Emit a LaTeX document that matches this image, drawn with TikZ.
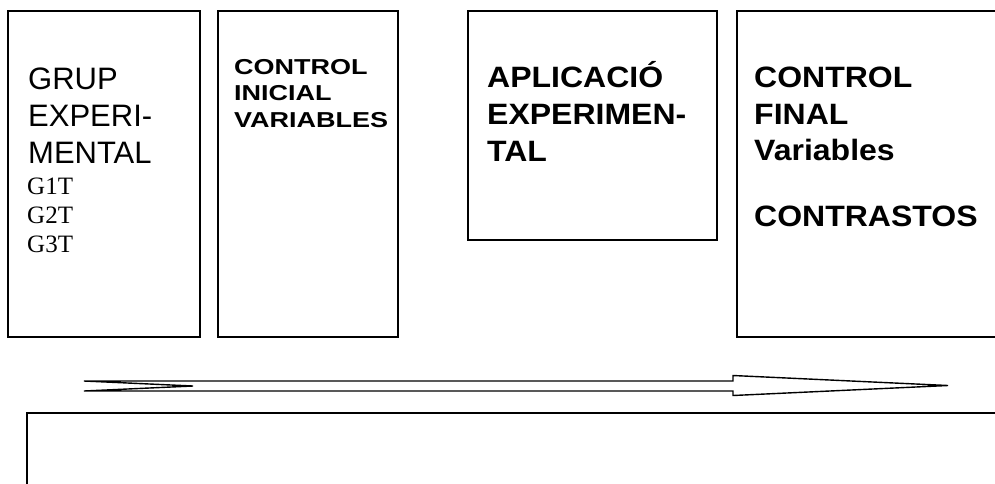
\documentclass[tikz,border=0pt]{standalone}
\usepackage{fontspec}
\usepackage{graphicx}
\setmainfont{Liberation Sans}
\newfontfamily\tms{Liberation Serif}
\newcommand{\vsq}[2]{\scalebox{1}[#1]{#2}}
\tikzset{
  frame/.style={draw=black, line width=1.4pt},
  txt/.style={anchor=base west, inner sep=0pt},
  bigreg/.style={txt, font=\fontsize{31}{37}\selectfont},
  smallb/.style={txt, font=\fontsize{27}{30}\selectfont\bfseries},
  bigb/.style={txt, font=\fontsize{32}{37}\selectfont\bfseries},
  tim/.style={txt, font=\fontsize{25}{29}\tms},
}
\begin{document}
\begin{tikzpicture}[x=1pt, y=-1pt]
\useasboundingbox (0,0) rectangle (995,483);
\clip (0,0) rectangle (995,483);
\fill[white] (0,0) rectangle (995,483);
% boxes
\draw[frame] (8,11) rectangle (200,337);
\draw[frame] (218,11) rectangle (398,337);
\draw[frame] (468,11) rectangle (717,240);
\draw[frame] (737,11) rectangle (1010,337);
\draw[frame] (27,500) -- (27,413) -- (1010,413);
% box 1
\node[bigreg] (g1) at (28,89) {GRUP};
\node[bigreg] (g2) at (28,126) {EXPERI-};
\node[bigreg] (g3) at (28,163) {MENTAL};
\node[tim] (t1) at (27,194) {G1T};
\node[tim] (t2) at (27,223) {G2T};
\node[tim] (t3) at (27,252) {G3T};
% box 2
\node[smallb] (c1) at (234,74) {\vsq{0.8}{CONTROL}};
\node[smallb] (c2) at (234,100) {\vsq{0.8}{INICIAL}};
\node[smallb] (c3) at (234,127) {\vsq{0.8}{VARIABLES}};
% box 3
\node[bigb] (a1) at (487,87) {\vsq{0.92}{APLICACIÓ}};
\node[bigb] (a2) at (487,124) {\vsq{0.92}{EXPERIMEN-}};
\node[bigb] (a3) at (487,161) {\vsq{0.92}{TAL}};
% box 4
\node[bigb] (f1) at (754,87) {\vsq{0.92}{CONTROL}};
\node[bigb] (f2) at (754,124) {\vsq{0.92}{FINAL}};
\node[bigb] (f3) at (754,160) {\vsq{0.92}{Variables}};
\node[bigb] (f4) at (754,226) {\vsq{0.92}{CONTRASTOS}};
% notched arrow
\coordinate (tailT) at (84,381);
\coordinate (tailB) at (84,391);
\coordinate (notch) at (193,386);
\coordinate (tip) at (948,385.5);
\draw[line width=1.4pt, line join=miter] (tailT) -- (733,381) -- (733,375.5) -- (tip)
  -- (733,395.5) -- (733,391) -- (tailB) -- (notch) -- cycle;
\end{tikzpicture}
\end{document}
